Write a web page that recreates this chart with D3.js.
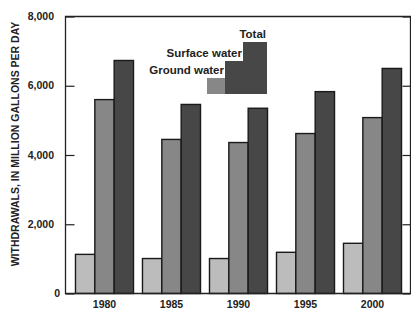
<!DOCTYPE html>
<html><head><meta charset="utf-8">
<script src="https://cdn.jsdelivr.net/npm/d3@7"></script>
<style>body{margin:0;background:#fff;} text{font-family:"Liberation Sans",Arial,sans-serif;font-weight:bold;fill:#222;}</style>
</head><body>
<svg id="c" width="411" height="310"></svg>
<script>
const years = ["1980","1985","1990","1995","2000"];
const seriesNames = ["Ground water","Surface water","Total"];
const groundWater = [1130, 1010, 1010, 1190, 1450];
const surfaceWater = [5600, 4450, 4360, 4620, 5080];
const totalWater = [6730, 5460, 5350, 5830, 6500];
const yTicks = [0, 2000, 4000, 6000, 8000];
const colors = ["#bcbcbc", "#878787", "#474747"];

const svg = d3.select("#c");
const L = 65.5, R = 410.5, T = 16.5, B = 293.5;
const x = d3.scaleBand().domain(years).range([66, 411]).paddingInner(0.134).paddingOuter(0.1415);
const xs = d3.scaleBand().domain(seriesNames).range([0, x.bandwidth()]);
const y = d3.scaleLinear().domain([0, 8000]).range([B, T]);

const seriesVals = [groundWater, surfaceWater, totalWater];
const data = [];
years.forEach((yr, i) => seriesNames.forEach((s, j) => data.push({yr, s, j, v: seriesVals[j][i]})));

svg.selectAll("rect.bar").data(data).join("rect").attr("class","bar")
  .attr("x", d => x(d.yr) + xs(d.s)).attr("width", xs.bandwidth())
  .attr("y", d => y(d.v)).attr("height", d => y(0) - y(d.v))
  .attr("fill", d => colors[d.j]).attr("stroke", "#1a1a1a").attr("stroke-width", 1.4);

// frame
svg.append("path").attr("d", `M${L},${T}H${R}V${B}H${L}Z`).attr("fill","none").attr("stroke","#222").attr("stroke-width",1.3);

// left axis (inward ticks)
const ya = svg.append("g").attr("transform", `translate(${L},0)`)
  .call(d3.axisRight(y).tickValues(yTicks).tickSize(9).tickFormat(""));
ya.select(".domain").remove();
ya.selectAll("line").attr("stroke","#222").attr("stroke-width",1.2);
svg.append("g").selectAll("text").data(yTicks).join("text")
  .attr("x", d => d === 0 ? 60 : 54).attr("y", d => y(d)).attr("dy","0.35em")
  .attr("text-anchor","end").attr("font-size", 10.5).text(d => d3.format(",")(d));
const yr2 = svg.append("g").attr("transform", `translate(${R},0)`)
  .call(d3.axisLeft(y).tickValues(yTicks).tickSize(8).tickFormat(""));
yr2.select(".domain").remove();
yr2.selectAll("line").attr("stroke","#222").attr("stroke-width",1.2);

// x axis labels
const xa = svg.append("g").attr("transform", `translate(0,${B})`)
  .call(d3.axisBottom(x).tickSize(0).tickPadding(7));
xa.select(".domain").remove();
xa.selectAll("text").attr("font-size", 10.5).attr("font-family", "Liberation Sans, Arial, sans-serif").attr("font-weight","bold").attr("fill","#222");

// y label
svg.append("text").attr("transform", `translate(19,144) rotate(-90)`)
  .attr("text-anchor","middle").attr("font-size", 10.5).text("WITHDRAWALS, IN MILLION GALLONS PER DAY");

// staircase legend
const lg = svg.append("g");
const steps = [
  {x0: 207, x1: 225, y0: 78},
  {x0: 225, x1: 243, y0: 61},
  {x0: 243, x1: 267, y0: 42}
];
const legBottom = 94;
lg.selectAll("rect").data(steps).join("rect")
  .attr("x", d => d.x0).attr("width", d => d.x1 - d.x0)
  .attr("y", d => d.y0).attr("height", d => legBottom - d.y0)
  .attr("fill", (d, i) => i === 0 ? colors[1] : colors[2]);
lg.selectAll("text").data(seriesNames).join("text")
  .attr("x", (d, i) => steps[i].x1 - 1).attr("y", (d, i) => steps[i].y0 - 4)
  .attr("text-anchor","end").attr("font-size", 11.5).text(d => d);
</script>
</body></html>
